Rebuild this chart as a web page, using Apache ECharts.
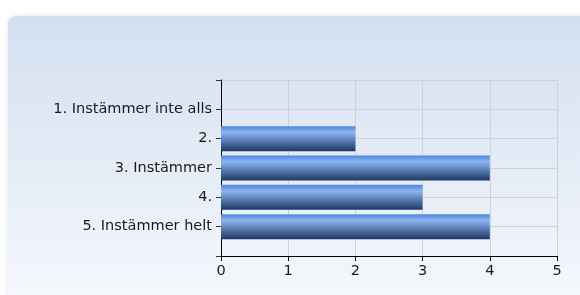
<!DOCTYPE html>
<html><head><meta charset="utf-8">
<script src="https://cdn.jsdelivr.net/npm/echarts@6/dist/echarts.min.js"></script>
<style>html,body{margin:0;padding:0;background:#fff}#c{width:580px;height:295px}</style>
</head><body><div id="c"></div>
<script>
const categories = ["1. Instämmer inte alls", "2.", "3. Instämmer", "4.", "5. Instämmer helt"];
const values = [0, 2, 4, 3, 4];
const xTicks = [0, 1, 2, 3, 4, 5];

const chart = echarts.init(document.getElementById('c'), null, {renderer: 'canvas'});
const yCats = [""].concat(categories, [""]);
const barData = [null].concat(values, [null]);
chart.setOption({
  animation: false,
  textStyle: {fontFamily: 'DejaVu Sans'},
  graphic: [{
    type: 'rect', z: -10, silent: true,
    shape: {x: 8, y: 16, width: 600, height: 300, r: 9},
    style: {
      fill: new echarts.graphic.LinearGradient(0, 0, 0, 1, [
        {offset: 0, color: '#d3dff0'}, {offset: 1, color: '#f7f9fd'}
      ]),
      shadowBlur: 4, shadowColor: 'rgba(0,0,0,0.12)'
    }
  }],
  grid: {left: 221, right: 23, top: 80, bottom: 39, containLabel: false},
  xAxis: {
    type: 'value', min: xTicks[0], max: xTicks[xTicks.length - 1], interval: 1,
    axisLine: {show: true, lineStyle: {color: '#000', width: 1}},
    axisTick: {show: true, length: 5, lineStyle: {color: '#000'}},
    axisLabel: {color: '#1a1a1a', fontSize: 14.5, margin: 8, fontFamily: 'DejaVu Sans'},
    splitLine: {show: true, lineStyle: {color: '#cdd1d9', width: 1}}
  },
  yAxis: {
    type: 'category', data: yCats, inverse: true, boundaryGap: false,
    axisLine: {show: true, lineStyle: {color: '#000', width: 1}},
    axisTick: {show: true, length: 5, interval: 0, lineStyle: {color: '#333'}},
    axisLabel: {color: '#1a1a1a', fontSize: 14.5, margin: 9, interval: 0, fontFamily: 'DejaVu Sans'},
    splitLine: {show: true, interval: 0, lineStyle: {color: '#cdd1d9', width: 1}}
  },
  series: [{
    type: 'bar',
    data: barData,
    barWidth: 25,
    itemStyle: {
      borderWidth: 0,
      color: new echarts.graphic.LinearGradient(0, 0, 0, 1, [
        {offset: 0, color: '#4d86de'},
        {offset: 0.25, color: '#8db5f0'},
        {offset: 0.55, color: '#5d82b8'},
        {offset: 1, color: '#1e3762'}
      ])
    }
  }]
});
</script></body></html>
